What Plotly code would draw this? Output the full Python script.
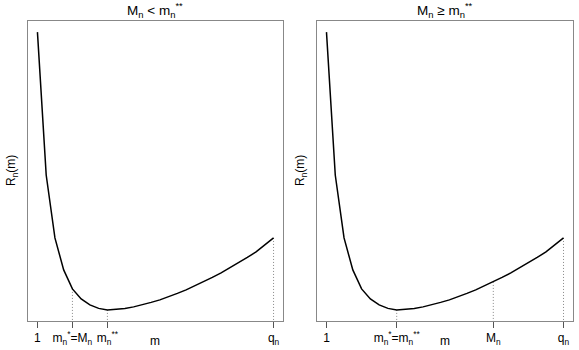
import plotly.graph_objects as go

# Data
m_vals = list(range(1, 29))
R_vals = [289, 146, 83, 51, 32, 22, 16, 12.5, 11, 11.5, 12.5, 14, 16, 18.5, 21, 24,
          27.5, 31, 35, 39, 43.5, 48, 53, 58, 63.5, 69, 76, 83]

left_title = "M<sub>n</sub> < m<sub>n</sub><sup>**</sup>"
right_title = "M<sub>n</sub> ≥ m<sub>n</sub><sup>**</sup>"
left_ticks = [1, 5, 9, 28]
left_ticktext = ["1", "m<sub>n</sub><sup>*</sup>=M<sub>n</sub>", "m<sub>n</sub><sup>**</sup>", "q<sub>n</sub>"]
right_ticks = [1, 9, 20, 28]
right_ticktext = ["1", "m<sub>n</sub><sup>*</sup>=m<sub>n</sub><sup>**</sup>", "M<sub>n</sub>", "q<sub>n</sub>"]
left_marks = [5, 9, 28]
right_marks = [9, 20, 28]

W, H = 579, 350
fig = go.Figure()
font = dict(family="Liberation Sans, Arial, sans-serif", color="black")

def R_at(m):
    return R_vals[m_vals.index(m)]

for i, (marks, xa, ya) in enumerate([(left_marks, "x", "y"), (right_marks, "x2", "y2")]):
    for mk in marks:
        fig.add_trace(go.Scatter(x=[mk, mk], y=[R_at(mk), -5], mode="lines",
                                 line=dict(color="#888888", width=1, dash="1px,2px"),
                                 xaxis=xa, yaxis=ya, showlegend=False, hoverinfo="skip"))
    fig.add_trace(go.Scatter(x=m_vals, y=R_vals, mode="lines",
                             line=dict(color="black", width=1.5),
                             xaxis=xa, yaxis=ya, showlegend=False))

ydom = [29 / H, 329 / H]
xrange = [1 - 0.04 * 27, 28 + 0.04 * 27]
yrange = [11 - 0.04 * 278, 289 + 0.04 * 278]
common_x = dict(range=xrange, showgrid=False, zeroline=False, showline=True, mirror=True,
                linecolor="#888888", linewidth=1, ticks="outside", ticklen=6,
                tickcolor="#555555", tickfont=dict(size=12, **font), tickmode="array",
                tickangle=0, automargin=False)
common_y = dict(range=yrange, showgrid=False, zeroline=False, showline=True, mirror=True,
                linecolor="#888888", linewidth=1, showticklabels=False, ticks="", domain=ydom,
                automargin=False)

fig.update_layout(
    width=W, height=H, margin=dict(l=0, r=0, t=0, b=0),
    plot_bgcolor="white", paper_bgcolor="white", showlegend=False,
    xaxis=dict(domain=[28 / W, 283 / W], tickvals=left_ticks, ticktext=left_ticktext, **common_x),
    yaxis=dict(anchor="x", **common_y),
    xaxis2=dict(domain=[317 / W, 573 / W], tickvals=right_ticks, ticktext=right_ticktext,
                anchor="y2", **common_x),
    yaxis2=dict(anchor="x2", **common_y),
)

ann = []
for cx, title in [(155.5, left_title), (445, right_title)]:
    ann.append(dict(x=cx / W, y=1 - 10 / H, xref="paper", yref="paper", text=title,
                    showarrow=False, font=dict(size=13.5, **font), xanchor="center", yanchor="middle"))
    ann.append(dict(x=cx / W, y=1 - 341 / H, xref="paper", yref="paper", text="m",
                    showarrow=False, font=dict(size=12, **font), xanchor="center", yanchor="middle"))
for cx in [12, 301]:
    ann.append(dict(x=cx / W, y=1 - 171 / H, xref="paper", yref="paper", text="R<sub>n</sub>(m)",
                    textangle=-90, showarrow=False, font=dict(size=12, **font),
                    xanchor="center", yanchor="middle"))
fig.update_layout(annotations=ann)

fig.write_html("out.html", config={"displayModeBar": False})

# remove default page margin so the figure sits at the window's top-left corner
with open("out.html", "r", encoding="utf-8") as f:
    html = f.read()
html = html.replace("<head>", "<head><style>html,body{margin:0;padding:0;overflow:hidden;}</style>", 1)
with open("out.html", "w", encoding="utf-8") as f:
    f.write(html)
